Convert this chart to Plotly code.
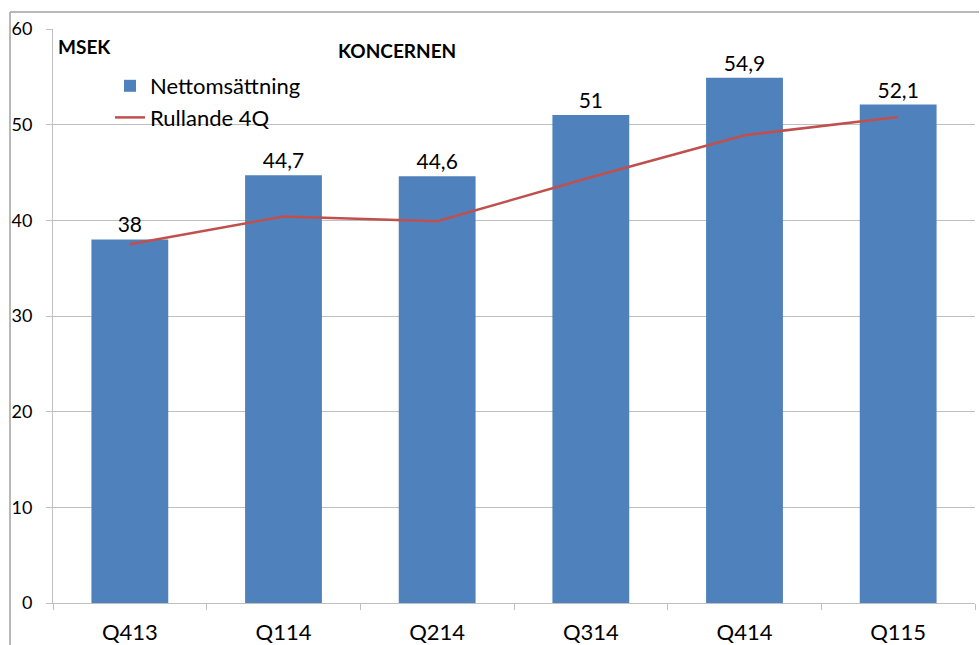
import plotly.graph_objects as go

categories = ["Q413", "Q114", "Q214", "Q314", "Q414", "Q115"]
nettoomsattning = [38.0, 44.7, 44.6, 51.0, 54.9, 52.1]
rullande_4q = [37.5, 40.4, 39.9, 44.5, 48.9, 50.8]
y_ticks = [0, 10, 20, 30, 40, 50, 60]

bar_labels = [("%g" % v).replace(".", ",") for v in nettoomsattning]

W, H = 980, 645
L, R, T, B = 53, 5, 29, 42
pw, ph = W - L - R, H - T - B

def px_x(p):
    return (p - L) / pw

def px_y(p):
    return (H - B - p) / ph

FONT = "Lato, 'Open Sans', sans-serif"

fig = go.Figure()
fig.add_trace(go.Bar(
    x=categories, y=nettoomsattning, name="Nettomsättning",
    marker=dict(color="#4F81BD", line=dict(width=0)),
    text=bar_labels, textposition="outside", cliponaxis=False,
    textfont=dict(size=21, color="#000000", family=FONT),
))
fig.add_trace(go.Scatter(
    x=categories, y=rullande_4q, name="Rullande 4Q", mode="lines",
    line=dict(color="#C0504D", width=2.5),
))

gray = "#BFBFBF"
fig.update_layout(
    width=W, height=H,
    margin=dict(l=L, r=R, t=T, b=B, autoexpand=False),
    paper_bgcolor="white", plot_bgcolor="white",
    bargap=0.5,
    font=dict(family=FONT, color="#000000"),
    showlegend=True,
    legend=dict(x=px_x(110), y=px_y(65), xanchor="left", yanchor="top",
                bgcolor="rgba(0,0,0,0)", font=dict(size=22, family=FONT),
                tracegroupgap=0, itemwidth=30),
    xaxis=dict(type="category", showline=True, linecolor=gray, linewidth=1,
               ticks="outside", tickson="boundaries", ticklen=6, tickcolor=gray,
               tickfont=dict(size=22, family=FONT), showgrid=False,
               range=[-0.5, 5.5], automargin=False, ticklabelstandoff=10),
    yaxis=dict(range=[0, 60], tickvals=y_ticks, showline=True, linecolor=gray,
               linewidth=1, ticks="outside", ticklen=6, tickcolor=gray,
               gridcolor=gray, gridwidth=1, zeroline=False,
               tickfont=dict(size=18, family=FONT), ticklabelstandoff=10,
               automargin=False),
    shapes=[
        dict(type="line", xref="paper", yref="paper", layer="above",
             x0=px_x(10), x1=px_x(979), y0=px_y(12), y1=px_y(12),
             line=dict(color="#B8B8B8", width=2)),
        dict(type="line", xref="paper", yref="paper", layer="above",
             x0=px_x(10), x1=px_x(10), y0=px_y(12), y1=px_y(645),
             line=dict(color="#B8B8B8", width=2)),
    ],
    annotations=[
        dict(text="<b>MSEK</b>", xref="paper", yref="paper", x=px_x(56), y=px_y(47),
             xanchor="left", yanchor="middle", showarrow=False,
             font=dict(size=19, family=FONT)),
        dict(text="<b>KONCERNEN</b>", xref="paper", yref="paper", x=px_x(397), y=px_y(50),
             xanchor="center", yanchor="middle", showarrow=False,
             font=dict(size=19, family=FONT)),
    ],
)

fig.write_html("out.html", config={"displayModeBar": False},
               post_script="document.body.style.margin='0';")
